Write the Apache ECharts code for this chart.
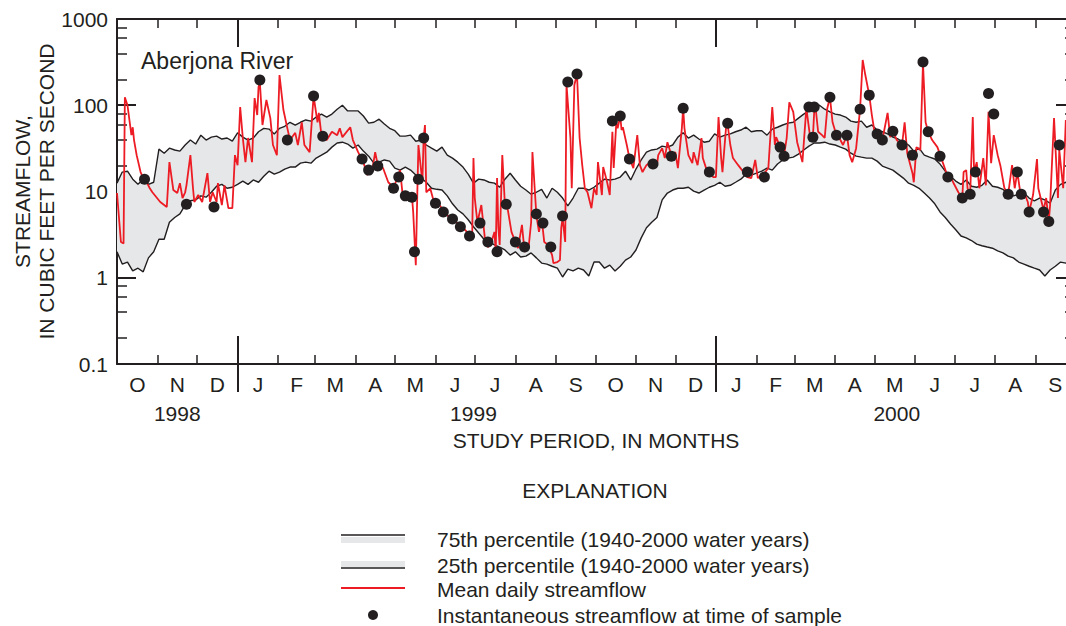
<!DOCTYPE html>
<html>
<head>
<meta charset="utf-8">
<script src="https://cdn.jsdelivr.net/npm/echarts@6/dist/echarts.min.js"></script>
<style>
html,body{margin:0;padding:0;overflow:hidden;background:#fff}
#chart{width:1080px;height:626px}
</style>
</head>
<body>
<div id="chart"></div>
<script>
// ---------- DATA ----------
// day offsets from 1 Oct 1998 of each month start (Oct 1998 .. Oct 2000)
const monthStarts = [0,31,61,92,123,151,182,212,243,273,304,335,365,396,426,457,488,517,548,578,609,639,670,701,731];
const monthLetters = ['O','N','D','J','F','M','A','M','J','J','A','S','O','N','D','J','F','M','A','M','J','J','A','S'];
const yearLabels = ['1998','1999','2000'];
const yearLabelDays = [46,272,595];
const yearBreakDays = [92,457];
const yMinorValues = [0.2,0.4,0.6,0.8,2,4,6,8,20,40,60,80,200,400,600,800];

// percentiles sampled every 4 days, cubic feet per second
const pctStepDays = 4;
const p75 = [12.5,16.8,17.2,13.9,12.1,13.9,12.1,12.8,31,27.8,
31.8,30.3,29.4,34.6,39.5,35.5,45,39.5,42.7,43.8,
40.6,41.7,38.3,47.9,42.7,39.5,41.7,49.3,54,52.9,
46.5,54,57,63.5,59,63.5,67.5,65.5,73,79,
73,79,90,100,86,86,86,75,62,63.5,
69,60.5,54,50.7,43.8,43.8,45,38.3,39.5,34.6,
31.8,29.4,32.7,26.4,24.4,21.9,19.2,15.9,12.5,13.9,
13.6,12.8,12.5,11.2,13.9,16.3,13.6,11.5,10.4,9.3,
9.8,10.6,8.4,10.9,9.8,8.4,6.8,8.4,10.9,10.9,
10.4,11.2,12.5,13.9,13.6,13.9,14.7,17.2,13.6,18.2,
23.2,28.6,30.3,31,33.6,32.7,34.6,42.7,47.9,41.7,
45,40.6,37.3,38.3,46.5,42.7,45,46.5,49.3,51.6,
55.6,49.3,50.7,50.7,45,52.9,55.6,59,62,63.5,
71,79,86,95,100,90,84,79,77,73,
65.5,63.5,65.5,55.6,59,51.6,49.3,46.5,42.7,40.6,
37.3,34.6,29.4,31.8,26.4,25,23.8,20.8,17.2,15,
13.2,12.1,13.6,11.5,11.2,11.8,13.6,11.5,11.2,10.6,
9.3,8.9,9.3,9.6,8.4,7.8,8.4,8.0,7.3,10.4,
12.1,12.8,11.8];
const p25 = [2.0,1.44,1.52,1.2,1.29,1.17,1.7,2.0,2.8,2.8,
4.4,5.0,5.5,6.97,7.8,8.0,8.9,8.6,9.8,11.5,
12.1,10.9,11.2,12.1,13.2,12.1,13.6,12.8,15,17.2,
15.9,16.8,18.2,19.2,19.2,21.3,21.9,21.3,24.4,26.4,
28.6,32.7,36.5,37.3,35.5,31.8,34.6,29.4,25.7,21.3,
21.9,23.2,22.5,18.7,17.7,19.2,17.7,15.5,14.3,12.8,
10.9,10.6,10.4,8.9,7.2,6.1,5.5,4.7,3.9,3.3,
2.8,2.6,2.4,2.27,2.1,1.83,2.0,1.74,1.78,1.94,
1.7,1.48,1.44,1.36,1.29,1.02,1.26,1.2,1.29,1.23,
1.05,1.52,1.52,1.29,1.4,1.2,1.36,1.6,1.74,2.1,
2.9,3.8,4.4,5.0,8.0,9.6,10.4,10.9,10.9,11.2,
10.1,9.6,10.4,11.2,11.8,12.8,11.5,11.8,12.8,13.9,
15.9,15.5,16.3,17.2,18.7,17.7,20.8,23.2,24.4,25,
27.1,30.3,33.6,36.5,36.5,37.3,35.5,34.6,32.7,31,
27.8,25.7,25,24.4,24.4,22.5,19.7,18.7,17.7,15.9,
14.3,12.5,11.8,10.9,9.6,8.4,7.2,5.8,5.0,4.2,
3.6,3.05,2.9,2.7,2.45,2.35,2.27,2.2,2.05,1.94,
1.78,1.7,1.52,1.44,1.36,1.29,1.23,1.05,1.23,1.36,
1.52,1.48,1.52];

// mean daily streamflow [day, cfs]
const meanDaily = [[0,9.6],[3,2.6],[5,2.5],[6,124],[8,100],[11,45],[12,55.6],[13,39.5],[15,26.4],[18,16.8],[20,14.3],[23,12.5],[25,10.9],[27,9.8],[33,7.55],[38,6.6],[40,21.9],[43,10.4],[46,9.6],[48,12.5],[50,8.4],[52,9.8],[53,11.8],[56,26.4],[58,10.9],[59,7.55],[62,9.1],[65,7.55],[69,16.3],[71,7.55],[73,9.8],[76,7.55],[77,12.5],[80,6.97],[82,11.8],[85,6.4],[88,6.4],[90,26.4],[92,20.2],[94,95.5],[96,41.7],[98,21.9],[100,41.7],[103,21.9],[105,121],[107,77],[108,163],[109,186],[111,59],[114,115],[117,71],[119,34.6],[122,26.4],[124,224],[127,88],[130,54],[132,39.5],[136,47.9],[138,34.6],[141,63.5],[143,34.6],[147,28.6],[150,128],[153,63.5],[154,81.5],[156,45],[160,39.5],[164,49.3],[168,45],[170,54],[172,42.7],[178,55.6],[180,39.5],[184,28.6],[188,21.9],[191,15.5],[195,18.7],[197,28.6],[199,20.2],[203,18.7],[207,12.8],[211,11.2],[214,14.3],[216,17.7],[218,9.1],[222,9.1],[225,9.1],[226,5.8],[228,1.4],[229,7.55],[230,34.6],[233,12.8],[234,41.7],[235,59],[236,9.8],[239,10.9],[241,8.4],[246,6.97],[252,5.3],[256,4.7],[262,4.1],[267,3.4],[271,2.96],[272,24.4],[273,8.4],[275,4.4],[278,6.97],[281,2.6],[283,2.27],[285,2.4],[288,3.4],[289,2.0],[290,14.3],[291,3.8],[292,2.4],[294,26.4],[296,6.97],[298,6.4],[301,3.4],[304,2.6],[306,2.2],[309,4.1],[311,2.0],[314,2.2],[316,4.4],[317,28.6],[320,5.3],[322,3.4],[324,4.9],[326,2.6],[329,2.4],[332,1.83],[333,1.48],[336,1.52],[338,1.6],[339,3.8],[340,4.9],[342,2.6],[343,172],[346,41.7],[347,10.9],[349,172],[351,230],[353,41.7],[355,20.2],[357,10.9],[359,9.8],[362,6.4],[364,10.9],[366,9.1],[367,21.9],[370,9.1],[371,19.2],[374,12.8],[376,9.1],[378,49.3],[379,18.7],[381,63.5],[382,54],[384,75],[385,51.6],[386,55.6],[389,34.6],[391,24.4],[394,18.7],[397,45],[399,20.2],[401,16.8],[404,20.2],[407,21.9],[409,20.8],[412,20.2],[413,26.4],[416,31.8],[418,24.4],[420,37.3],[423,26.4],[426,28.6],[428,18.7],[431,54],[432,92.5],[433,54],[436,26.4],[439,21.3],[440,28.6],[443,20.2],[446,41.7],[447,24.4],[450,17.7],[452,16.3],[455,14.7],[457,14.7],[459,73],[461,24.4],[462,16.8],[465,62],[466,59],[468,34.6],[470,24.4],[474,20.2],[478,16.8],[481,14.7],[484,14.3],[487,23.2],[489,14.3],[492,15.5],[494,16.3],[497,18.7],[500,95.5],[502,34.6],[503,42.7],[506,32.7],[509,26.4],[511,41.7],[513,108],[516,84],[519,37.3],[523,21.9],[526,92.5],[529,41.7],[531,42.7],[532,84],[533,95.5],[535,49.3],[538,45],[540,41.7],[542,92.5],[544,124],[546,63.5],[549,45],[552,39.5],[554,34.6],[557,45],[559,26.4],[561,21.9],[564,31.8],[567,90],[569,335],[571,224],[574,131],[576,77],[578,49.3],[580,46.5],[584,39.5],[588,81.5],[590,42.7],[592,50.2],[595,39.5],[599,34.6],[601,63.5],[603,27.8],[607,16.3],[608,12.8],[610,32.7],[613,30.3],[615,309],[617,63.5],[619,49.3],[622,39.5],[626,32.7],[630,21.9],[634,14.7],[635,16.3],[638,12.8],[642,9.8],[645,8.4],[646,16.8],[648,17.7],[649,10.9],[651,9.3],[653,73],[654,16.8],[656,21.9],[658,10.9],[661,24.4],[663,11.8],[665,84],[667,21.3],[669,45],[672,26.4],[674,20.2],[677,11.2],[679,9.6],[680,9.3],[683,20.2],[685,10.9],[687,16.8],[689,10.4],[690,9.3],[692,9.8],[695,7.55],[696,5.8],[699,9.1],[702,23.8],[703,10.9],[707,6.1],[709,8.4],[711,4.5],[712,6.97],[715,71],[718,8.4],[719,30.3],[722,10.9],[724,67.5]];

// instantaneous streamflow at time of sample [day, cfs]
const samples = [[21,13.9],[53,7.1],[74,6.6],[109,196],[130,39.5],[150,128],[157,43.8],[187,23.8],[192,17.7],[199,19.8],[211,10.9],[215,14.7],[220,8.9],[225,8.6],[227,2.0],[230,13.9],[234,41.7],[243,7.3],[249,5.8],[256,4.8],[262,3.9],[269,3.05],[277,4.3],[283,2.6],[290,2.0],[297,7.1],[304,2.6],[311,2.27],[320,5.5],[325,4.3],[331,2.27],[340,5.2],[344,186],[351,230],[378,65.5],[384,75],[391,23.8],[409,20.8],[423,25.7],[432,92.5],[452,16.8],[466,62],[481,16.8],[494,14.7],[506,32.7],[509,25.7],[528,95.6],[531,42.7],[532,95.6],[544,124],[549,45],[557,45],[567,90],[574,131],[580,46.3],[584,39.5],[592,50],[599,34.6],[607,26.4],[615,318],[619,49.3],[628,25.7],[634,14.7],[645,8.4],[651,9.3],[655,16.8],[665,137],[669,79],[680,9.3],[687,16.8],[690,9.3],[696,5.8],[707,5.8],[711,4.5],[719,34.6]];

const legendLabels = ['75th percentile (1940-2000 water years)','25th percentile (1940-2000 water years)','Mean daily streamflow','Instantaneous streamflow at time of sample'];

// ---------- CHART ----------
const INK = '#231f20', RED = '#ed1c24', GRAY = '#e6e7e8';
const FONT = '"Liberation Sans", Arial, Helvetica, sans-serif';
const FS = 21;
const DAY_MAX = monthStarts[monthStarts.length - 1];
const pctDays = p75.map((_, i) => i * pctStepDays);
const monthMids = monthLetters.map((_, i) => (monthStarts[i] + monthStarts[i + 1]) / 2);
const monthTicks = monthStarts.filter(d => d > 0 && d < DAY_MAX && yearBreakDays.indexOf(d) < 0);
const txt = {color: INK, fontFamily: FONT, fontSize: FS};

function xBase(extra) {
  return Object.assign({
    type: 'value', min: 0, max: DAY_MAX, gridIndex: 0,
    splitLine: {show: false}, axisLine: {show: false, onZero: false},
    axisTick: {show: false}, axisLabel: {show: false}
  }, extra);
}
function yLog(extra) {
  return Object.assign({
    type: 'log', logBase: 10, min: 0.1, max: 1000,
    splitLine: {show: false}, axisLabel: {show: false}
  }, extra);
}
function yMinor(extra) {
  return Object.assign({
    type: 'value', min: -1, max: 3,
    splitLine: {show: false}, axisLine: {show: false, onZero: false}, axisLabel: {show: false},
    axisTick: {show: true, inside: true, length: 10, lineStyle: {color: INK, width: 1.5},
      customValues: yMinorValues.map(v => Math.log10(v))}
  }, extra);
}
function legendText(i, y) {
  return {type: 'text', x: 437, y: y, style: {text: legendLabels[i], fill: INK, fontFamily: FONT, fontSize: FS, verticalAlign: 'middle'}};
}

const chart = echarts.init(document.getElementById('chart'), null, {renderer: 'svg'});
const option = {
  animation: false,
  backgroundColor: '#fff',
  grid: {left: 117, top: 19, width: 958, height: 345, containLabel: false, outerBoundsMode: 'none'},
  xAxis: [
    xBase({position: 'bottom',
      axisLine: {show: true, onZero: false, lineStyle: {color: INK, width: 2}},
      axisTick: {show: true, inside: true, length: 9, customValues: monthTicks, lineStyle: {color: INK, width: 1.5}},
      axisLabel: Object.assign({show: true, margin: 10, customValues: monthMids,
        formatter: v => monthLetters[monthMids.indexOf(v)] || ''}, txt),
      name: 'STUDY PERIOD, IN MONTHS', nameLocation: 'middle', nameGap: 66, nameMoveOverlap: false,
      nameTextStyle: Object.assign({}, txt)}),
    xBase({position: 'bottom',
      axisTick: {show: true, inside: false, length: 28, customValues: yearBreakDays, lineStyle: {color: INK, width: 2}},
      axisLabel: Object.assign({show: true, margin: 39, customValues: yearLabelDays,
        formatter: v => yearLabels[yearLabelDays.indexOf(v)] || ''}, txt)}),
    xBase({position: 'bottom',
      axisTick: {show: true, inside: true, length: 28, customValues: yearBreakDays, lineStyle: {color: INK, width: 2}}}),
    xBase({position: 'top',
      axisLine: {show: true, onZero: false, lineStyle: {color: INK, width: 2}},
      axisTick: {show: true, inside: true, length: 9, customValues: monthTicks, lineStyle: {color: INK, width: 1.5}}}),
    xBase({position: 'top',
      axisTick: {show: true, inside: true, length: 28, customValues: yearBreakDays, lineStyle: {color: INK, width: 2}}})
  ],
  yAxis: [
    yLog({position: 'left',
      axisLine: {show: true, onZero: false, lineStyle: {color: INK, width: 2}},
      axisTick: {show: true, inside: true, length: 19, lineStyle: {color: INK, width: 2}},
      axisLabel: Object.assign({show: true, margin: 9,
        formatter: v => String(parseFloat(Number(v).toPrecision(2)))}, txt),
      name: 'STREAMFLOW,\nIN CUBIC FEET PER SECOND', nameLocation: 'middle', nameGap: 59, nameMoveOverlap: false,
      nameTextStyle: Object.assign({lineHeight: 24}, txt)}),
    yMinor({position: 'left'}),
    yLog({position: 'right',
      axisLine: {show: true, onZero: false, lineStyle: {color: INK, width: 2}},
      axisTick: {show: true, inside: true, length: 19, lineStyle: {color: INK, width: 2}}}),
    yMinor({position: 'right'})
  ],
  series: [
    {name: 'Interquartile band', type: 'custom', xAxisIndex: 0, yAxisIndex: 0, clip: true, silent: true,
      data: [[pctDays[0], p25[0]]], encode: {x: 0, y: 1}, z: 2,
      renderItem: function (params, api) {
        const pts = [];
        for (let i = 0; i < pctDays.length; i++) pts.push(api.coord([pctDays[i], p75[i]]));
        for (let i = pctDays.length - 1; i >= 0; i--) pts.push(api.coord([pctDays[i], p25[i]]));
        return {type: 'polygon', shape: {points: pts}, style: {fill: GRAY}, silent: true};
      }},
    {name: '75th percentile', type: 'line', xAxisIndex: 0, yAxisIndex: 0,
      data: pctDays.map((d, i) => [d, p75[i]]), symbol: 'none', silent: true,
      lineStyle: {color: INK, width: 1.4}, z: 4},
    {name: '25th percentile', type: 'line', xAxisIndex: 0, yAxisIndex: 0,
      data: pctDays.map((d, i) => [d, p25[i]]), symbol: 'none', silent: true,
      lineStyle: {color: INK, width: 1.4}, z: 4},
    {name: 'Mean daily streamflow', type: 'line', xAxisIndex: 0, yAxisIndex: 0,
      data: meanDaily, symbol: 'none', silent: true,
      lineStyle: {color: RED, width: 1.8}, z: 5},
    {name: 'Instantaneous streamflow at time of sample', type: 'scatter', xAxisIndex: 0, yAxisIndex: 0,
      data: samples, symbol: 'circle', symbolSize: 11, silent: true,
      itemStyle: {color: INK, opacity: 1}, z: 6}
  ],
  graphic: [
    {type: 'text', x: 141, y: 61, style: {text: 'Aberjona River', fill: INK, fontFamily: FONT, fontSize: 23, verticalAlign: 'middle'}},
    {type: 'text', x: 595, y: 490, style: {text: 'EXPLANATION', fill: INK, fontFamily: FONT, fontSize: FS, align: 'center', verticalAlign: 'middle'}},
    {type: 'rect', shape: {x: 341, y: 537, width: 64, height: 6}, style: {fill: GRAY}},
    {type: 'line', shape: {x1: 341, y1: 535, x2: 405, y2: 535}, style: {stroke: INK, lineWidth: 1.5}},
    {type: 'rect', shape: {x: 341, y: 561, width: 64, height: 6}, style: {fill: GRAY}},
    {type: 'line', shape: {x1: 341, y1: 568, x2: 405, y2: 568}, style: {stroke: INK, lineWidth: 1.5}},
    {type: 'line', shape: {x1: 341, y1: 588, x2: 405, y2: 588}, style: {stroke: RED, lineWidth: 1.8}},
    {type: 'circle', shape: {cx: 373, cy: 615, r: 5}, style: {fill: INK}},
    legendText(0, 539), legendText(1, 565), legendText(2, 589), legendText(3, 615)
  ]
};
chart.setOption(option);
</script>
</body>
</html>
